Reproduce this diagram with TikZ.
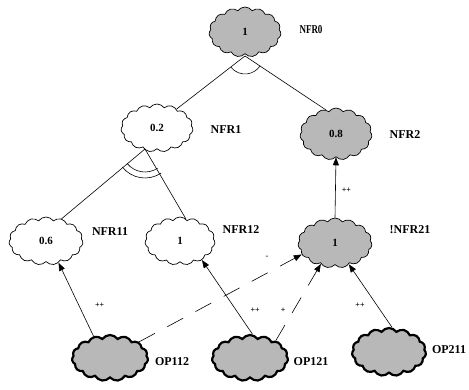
\documentclass[tikz,border=0pt]{standalone}
\usepackage{fontspec}
\setmainfont{Liberation Serif}
\usetikzlibrary{shapes.symbols,arrows.meta}
\begin{document}
\begin{tikzpicture}[x=1pt,y=1pt,
  cl/.style={cloud, cloud puffs=15, cloud puff arc=110, cloud ignores aspect, draw=black, line width=0.7pt, inner sep=0pt, minimum width=72pt, minimum height=48pt, font=\fontsize{11}{12}\selectfont\bfseries},
  plaincl/.style={cl, fill=white},
  shadecl/.style={cl, fill=black!28},
  opcl/.style={cl, fill=black!28, line width=2.2pt},
  lab/.style={font=\fontsize{12}{13}\selectfont\bfseries, inner sep=0pt},
  sml/.style={font=\fontsize{8}{9}\selectfont\bfseries, inner sep=0pt},
  link/.style={line width=0.6pt},
  arr/.style={link, -{Triangle[length=8pt,width=6pt]}},
  dasharr/.style={arr, dash pattern=on 18pt off 14pt}
]
\useasboundingbox (0,0) rectangle (469,390);
% goal clouds
\node[shadecl, minimum height=50pt] (NFR0) at (245,358) {1};
\node[plaincl] (NFR1) at (157,262) {0.2};
\node[shadecl, minimum height=52pt] (NFR2) at (336,256) {0.8};
\node[plaincl, minimum width=74pt] (NFR11) at (46,149) {0.6};
\node[plaincl, minimum width=70pt] (NFR12) at (180,149) {1};
\node[shadecl, minimum width=74pt, minimum height=50pt] (NFR21) at (335,147) {1};
\node[opcl, minimum width=76pt, minimum height=46pt] (OP112) at (110,32) {};
\node[opcl, minimum width=76pt, minimum height=46pt] (OP121) at (250,32) {};
\node[opcl, minimum width=74pt, minimum height=48pt] (OP211) at (389,38) {};
% names
\node[lab] (tNFR0) at (311,360) {\scalebox{0.75}[1]{NFR0}};
\node[lab] (tNFR1) at (226,260) {NFR1};
\node[lab] (tNFR2) at (405,255) {NFR2};
\node[lab] (tNFR11) at (110,158) {NFR11};
\node[lab] (tNFR12) at (241,160) {NFR12};
\node[lab] (tNFR21) at (410,160) {!NFR21};
\node[lab] (tOP112) at (172,28) {OP112};
\node[lab] (tOP121) at (311,28) {OP121};
\node[lab] (tOP211) at (449,40) {OP211};
% AND decomposition of NFR0
\coordinate (a0) at (245,334);
\draw[link] (a0) -- (NFR1.44);
\draw[link] (a0) -- (NFR2.113);
\draw[link] ([shift={(218.1:18)}]a0) arc[start angle=218.1, end angle=326.8, radius=18];
% decomposition of NFR1
\coordinate (a1) at (145,241);
\draw[link] (a1) -- (NFR11.55);
\draw[link] (a1) -- (NFR12.75);
\draw[link] ([shift={(218.5:23)}]a1) arc[start angle=218.5, end angle=303.7, radius=23];
\draw[link] ([shift={(218.5:29)}]a1) arc[start angle=218.5, end angle=303.7, radius=29];
% contributions
\draw[arr] (NFR21.north) -- node[sml, right=6pt, pos=0.45] (l0) {++} (NFR2.south);
\draw[arr] (OP112.127) -- node[sml, right=16pt, pos=0.42] (l1) {++} (NFR11.-60);
\draw[arr] (OP121.84) -- node[sml, right=14pt, pos=0.32] (l2) {++} (NFR12.-41);
\draw[dasharr] (OP121.34) -- node[sml, left=8pt, pos=0.4] (l3) {+} (NFR21.236);
\draw[arr] (OP211.83) -- node[sml, left=12pt, pos=0.35] (l4) {++} (NFR21.-57);
\draw[dasharr] (OP112.29) -- (NFR21.199);
\node[sml] (l5) at (267,133) {-};
\end{tikzpicture}
\end{document}
